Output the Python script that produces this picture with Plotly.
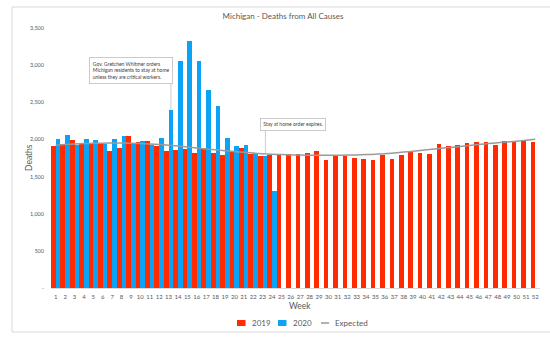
import plotly.graph_objects as go

# Weekly all-cause deaths in Michigan
weeks = list(range(1, 53))

deaths_2019 = [1915, 1932, 1986, 1941, 1941, 1950, 1838, 1878, 2040, 1968,
               1973, 1910, 1842, 1860, 1874, 1820, 1887, 1824, 1797, 1838,
               1882, 1806, 1779, 1792, 1792, 1806, 1810, 1824, 1851, 1721,
               1784, 1775, 1752, 1730, 1725, 1792, 1743, 1784, 1846, 1820,
               1801, 1932, 1905, 1919, 1950, 1959, 1968, 1919, 1977, 1968,
               1995, 1959]

deaths_2020 = [2009, 2063, 1923, 2000, 1986, 1932, 2000, 2050, 1955, 1977,
               1928, 2014, 2392, 3060, 3320, 3050, 2662, 2450, 2023, 1910,
               1928, 1824, 1779, 1311]

expected = [1920, 1932, 1940, 1945, 1948, 1950, 1951, 1951, 1950, 1946,
            1940, 1932, 1922, 1910, 1898, 1885, 1872, 1860, 1848, 1836,
            1826, 1816, 1808, 1801, 1796, 1792, 1789, 1787, 1786, 1786,
            1787, 1789, 1792, 1796, 1801, 1807, 1818, 1830, 1842, 1855,
            1867, 1880, 1893, 1906, 1919, 1932, 1944, 1955, 1966, 1977,
            1990, 2003]

y_ticks = [0, 500, 1000, 1500, 2000, 2500, 3000, 3500]
y_tick_text = ["-", "500", "1,000", "1,500", "2,000", "2,500", "3,000", "3,500"]

RED = "#FF2A00"
BLUE = "#0AA3F5"
LINE_GREY = "#9A9A9A"
GREY_TEXT = "#595959"
FONT = "Lato, 'Open Sans', sans-serif"

# Plot-area geometry in pixels (used to place paper-referenced items)
W, H = 550, 338
ML, MR, MT, MB = 51, 10, 28, 50
PW, PH = W - ML - MR, H - MT - MB


def px_x(p):
    return (p - ML) / PW


def px_y(p):
    return (H - MB - p) / PH


fig = go.Figure()
fig.add_trace(go.Bar(x=weeks, y=deaths_2019, name="2019", marker_color=RED,
                     marker_line_width=0, showlegend=False))
fig.add_trace(go.Bar(x=weeks[:len(deaths_2020)], y=deaths_2020, name="2020",
                     marker_color=BLUE, marker_line_width=0, showlegend=False))
fig.add_trace(go.Scatter(x=weeks, y=expected, name="Expected", mode="lines",
                         line=dict(color=LINE_GREY, width=1.5, shape="spline"),
                         showlegend=False))

# Callout boxes with leader lines
fig.add_annotation(x=4.5, y=3115, xref="x", yref="y", xanchor="left", yanchor="top",
                   text="Gov. Gretchen Whitmer orders<br>Michigan residents to stay at home<br>unless they are critical workers.",
                   showarrow=False, align="left", font=dict(size=5, color="#404040", family=FONT),
                   bordercolor="#BFBFBF", borderwidth=0.8, borderpad=3, bgcolor="white")
fig.add_shape(type="line", xref="x", yref="y", x0=13.25, x1=13.25, y0=2800, y1=2395,
              line=dict(color="#BFBFBF", width=0.8))

fig.add_annotation(x=22.74, y=2286, xref="x", yref="y", xanchor="left", yanchor="top",
                   text="Stay at home order expires.",
                   showarrow=False, align="left", font=dict(size=5, color="#404040", family=FONT),
                   bordercolor="#BFBFBF", borderwidth=0.8, borderpad=2.5, bgcolor="white")
fig.add_shape(type="line", xref="x", yref="y", x0=23.3, x1=23.3, y0=2165, y1=1800,
              line=dict(color="#BFBFBF", width=0.8))

# Chart frame
fig.add_shape(type="rect", xref="paper", yref="paper", x0=px_x(12), x1=px_x(560),
              y0=px_y(332), y1=px_y(7),
              line=dict(color="#D9D9D9", width=1), fillcolor="rgba(0,0,0,0)", layer="below")

# Axis titles
fig.add_annotation(x=px_x(300), y=px_y(306), xref="paper", yref="paper", text="Week",
                   showarrow=False, font=dict(size=8.5, color=GREY_TEXT, family=FONT),
                   yanchor="middle")
fig.add_annotation(x=px_x(22), y=0.5, xref="paper", yref="paper", text="Deaths",
                   showarrow=False, textangle=-90,
                   font=dict(size=8.5, color=GREY_TEXT, family=FONT))

# Legend row
legend_y = 323
legend_items = [("box", RED, "2019", 237), ("box", BLUE, "2020", 278),
                ("line", LINE_GREY, "Expected", 321)]
for kind, color, label, left in legend_items:
    if kind == "box":
        fig.add_shape(type="rect", xref="paper", yref="paper",
                      x0=px_x(left), x1=px_x(left + 8.5),
                      y0=px_y(legend_y + 3), y1=px_y(legend_y - 3),
                      line=dict(width=0), fillcolor=color)
        text_x = left + 12.5
    else:
        fig.add_shape(type="line", xref="paper", yref="paper",
                      x0=px_x(left), x1=px_x(left + 8), y0=px_y(legend_y), y1=px_y(legend_y),
                      line=dict(color=color, width=1.5))
        text_x = left + 12
    fig.add_annotation(x=px_x(text_x), y=px_y(legend_y), xref="paper", yref="paper",
                       text=label, showarrow=False, xanchor="left", yanchor="middle",
                       font=dict(size=8, color=GREY_TEXT, family=FONT))

fig.update_layout(
    width=W, height=H,
    margin=dict(l=ML, r=MR, t=MT, b=MB, autoexpand=False),
    paper_bgcolor="white", plot_bgcolor="white",
    barmode="group", bargap=0, bargroupgap=0,
    showlegend=False,
    font=dict(family=FONT, color=GREY_TEXT),
    title=dict(text="Michigan - Deaths from All Causes", x=px_x(283), xref="paper",
               xanchor="center", y=1 - 16 / H, yref="container", yanchor="middle",
               font=dict(size=8, color=GREY_TEXT, family=FONT)),
    xaxis=dict(range=[0.5, 52.5], tickmode="array", tickvals=weeks,
               ticktext=[str(w) for w in weeks], tickangle=0,
               tickfont=dict(size=6, color=GREY_TEXT), showgrid=False, zeroline=False,
               showline=True, linecolor="#D9D9D9", linewidth=1, ticks="",
               ticklabelstandoff=3),
    yaxis=dict(range=[0, 3500], tickmode="array", tickvals=y_ticks, ticktext=y_tick_text,
               tickfont=dict(size=5.5, color=GREY_TEXT), showgrid=False, zeroline=False,
               showline=False, ticks="", ticklabelstandoff=6),
)

fig.write_html("out.html")
